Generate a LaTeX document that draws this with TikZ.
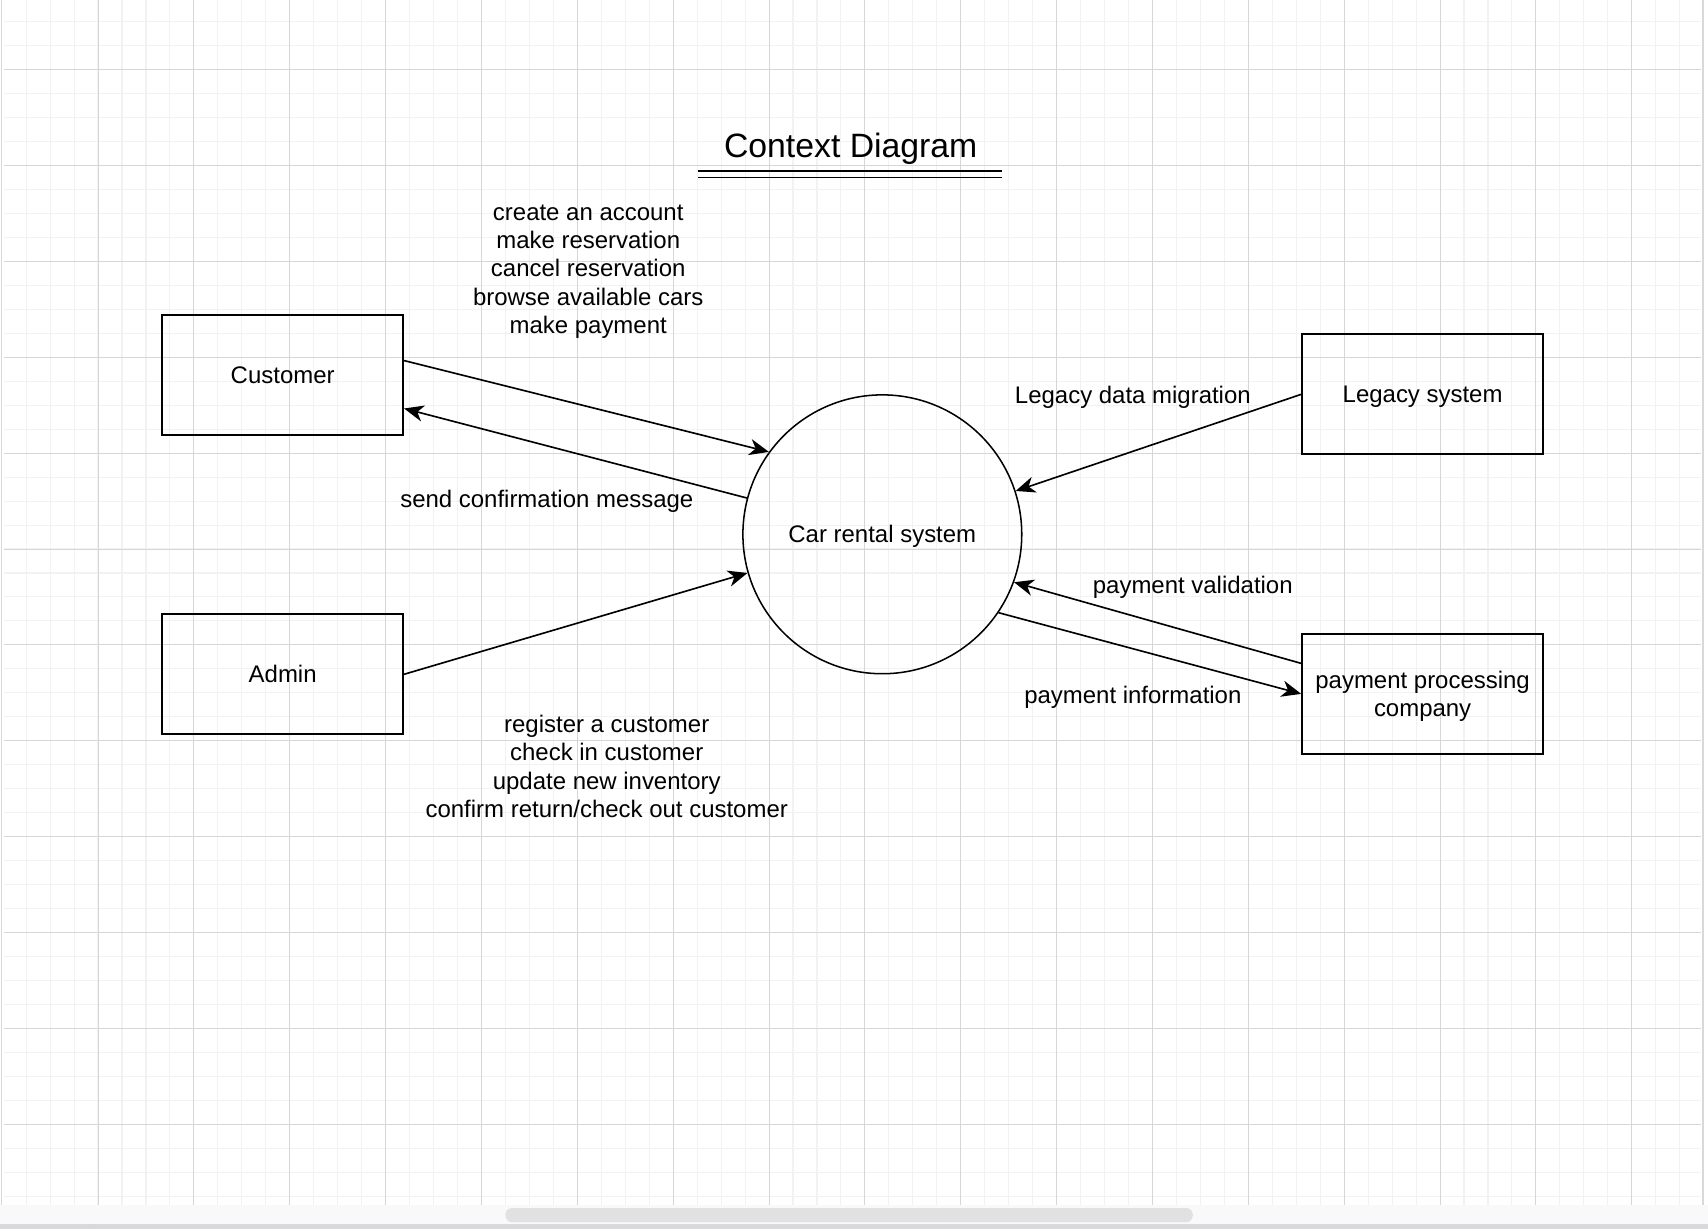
\documentclass[tikz,border=0pt]{standalone}
\usepackage{fontspec}
\setmainfont{Liberation Sans}
\usetikzlibrary{arrows.meta,calc}
\definecolor{gridminor}{HTML}{F2F2F2}
\definecolor{gridmajor}{HTML}{D6D6D6}
\definecolor{barbg}{HTML}{F9F9F9}
\definecolor{thumb}{HTML}{E1E1E1}
\definecolor{edge}{HTML}{D9D9DD}
\begin{document}
\begin{tikzpicture}[x=1pt,y=-1pt,
  txt/.style={font=\fontsize{22}{26}\selectfont, text depth=0pt},
  box/.style={txt, draw, line width=1.9pt, minimum width=221pt, minimum height=110pt, inner sep=0pt, align=center},
  proc/.style={txt, draw, circle, line width=1.4pt, minimum size=256pt, inner sep=0pt},
  lbl/.style={txt, align=center, inner sep=0pt},
  flow/.style={line width=1.5pt, -{Stealth[length=18pt,width=15pt,inset=5.5pt]}},
  ]
% background and bounding box
\fill[white] (0,0) rectangle (1568,1128);
\useasboundingbox (0,0) rectangle (1568,1128);
% grid
\foreach \gx in {24,46,...,1562} \draw[gridminor, line width=1pt] (\gx,0) -- (\gx,1106);
\foreach \gy in {20,42,...,1100} \draw[gridminor, line width=1pt] (4,\gy) -- (1562,\gy);
\foreach \gx in {90,178,...,1500} \draw[gridmajor, line width=0.9pt] (\gx,0) -- (\gx,1106);
\foreach \gy in {64,152,...,1040} \draw[gridmajor, line width=0.9pt] (4,\gy) -- (1562,\gy);
\draw[edge, line width=1.5pt] (1.5,0) -- (1.5,1106);
\draw[edge, line width=1.5pt] (1563.5,0) -- (1563.5,1106);
% bottom bar
\fill[barbg] (0,1106) rectangle (1568,1124);
\fill[thumb, rounded corners=6pt] (464,1109) rectangle (1095,1122);
\fill[edge] (0,1124) rectangle (1568,1128);
\draw[gridmajor, line width=0.8pt] (83,1124) -- (83,1128);
% title
\node[font=\fontsize{31}{36}\selectfont, text depth=0pt, inner sep=0pt] (title) at (781,133) {Context Diagram};
\draw[line width=1.6pt] (641,157) -- (920,157);
\draw[line width=1.6pt] (641,163) -- (920,163);
% nodes
\node[box] (cust) at (259.5,344) {Customer};
\node[box] (admin) at (259.5,619) {Admin};
\node[box] (leg) at (1306,362) {Legacy system};
\node[box] (pay) at (1306,637) {payment processing\\company};
\node[proc] (sys) at (810,490.5) {Car rental system};
% connectors
\draw[flow] ($(cust.east)+(0,-13)$) -- (sys.144.7);
\draw[flow] (sys.165.1) -- ($(cust.east)+(0,31)$);
\draw[flow] (admin.east) -- (sys.196.8);
\draw[flow] (leg.west) -- (sys.18);
\draw[flow] ($(pay.west)+(0,-28)$) -- (sys.340.9);
\draw[flow] (sys.326.1) -- (pay.west);
% labels
\node[lbl] (l1) at (540,247) {create an account\\make reservation\\cancel reservation\\browse available cars\\make payment};
\node[lbl] (l2) at (502,458) {send confirmation message};
\node[lbl] (l3) at (557,703.5) {register a customer\\check in customer\\update new inventory\\confirm return/check out customer};
\node[lbl] (l4) at (1040,362) {Legacy data migration};
\node[lbl] (l5) at (1095,537) {payment validation};
\node[lbl] (l6) at (1040,638) {payment information};
\end{tikzpicture}
\end{document}
